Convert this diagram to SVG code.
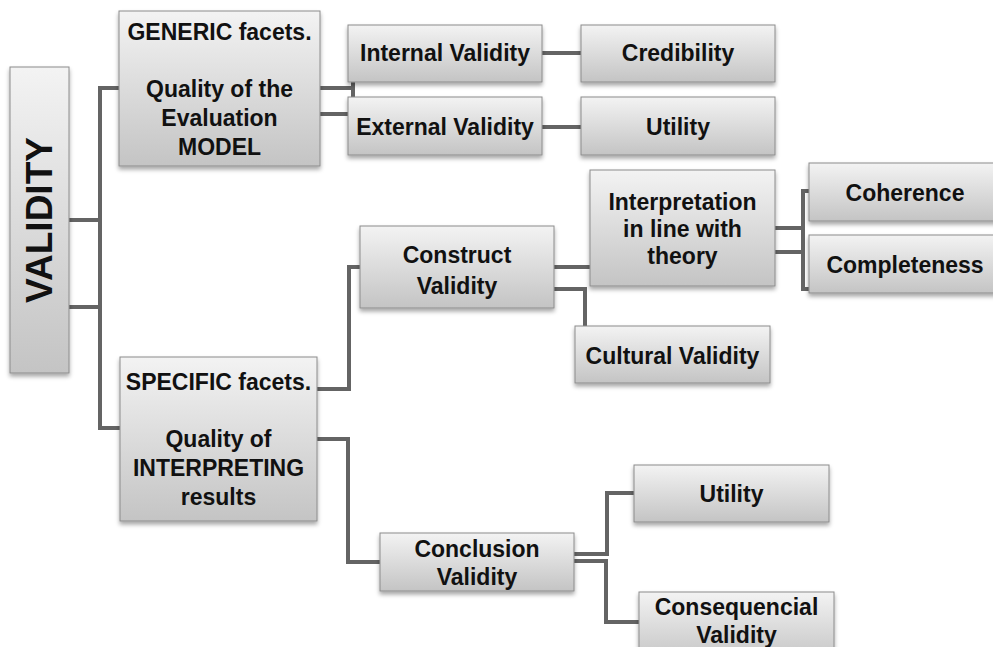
<svg xmlns="http://www.w3.org/2000/svg" width="993" height="647" viewBox="0 0 993 647">
<defs>
<linearGradient id="g" x1="0" y1="0" x2="0" y2="1">
<stop offset="0" stop-color="#f3f3f3"/>
<stop offset="1" stop-color="#c4c4c4"/>
</linearGradient>
<linearGradient id="gh" x1="0" y1="0" x2="1" y2="0">
<stop offset="0" stop-color="#c8c8c8"/>
<stop offset="1" stop-color="#ececec"/>
</linearGradient>
<filter id="sh" x="-10%" y="-10%" width="130%" height="140%">
<feDropShadow dx="0" dy="3" stdDeviation="2" flood-color="#000" flood-opacity="0.35"/>
</filter>
</defs>
<style>
.box{fill:url(#g);stroke:#8c8c8c;stroke-width:1;filter:url(#sh)}
.t{font-family:"Liberation Sans",Arial,sans-serif;font-weight:bold;font-size:23px;fill:#111;text-anchor:middle}
.c{fill:none;stroke:#646464;stroke-width:4}
</style>
<rect width="993" height="647" fill="#fff"/>
<g id="connectors">
<path class="c" d="M69,220H100M69,307H100M100,86V430M100,88H119M100,428H120"/>
<path class="c" d="M320,88H354M353,82V97"/>
<path class="c" d="M320,114H348"/>
<path class="c" d="M542,53H581"/>
<path class="c" d="M542,127H581"/>
<path class="c" d="M317,389H349V267H360"/>
<path class="c" d="M317,439H348V562H380"/>
<path class="c" d="M554,267H590"/>
<path class="c" d="M554,289H585V326"/>
<path class="c" d="M775,228H803M775,252H803M809,191H803V289H809"/>
<path class="c" d="M574,554H607V493H634"/>
<path class="c" d="M574,561H606V622H639"/>
</g>
<g id="validity">
<rect class="box" x="10" y="67" width="59" height="306"/>
<text class="t" style="font-size:37px" transform="translate(52,220) rotate(-90)">VALIDITY</text>
</g>
<g id="generic">
<rect class="box" x="119" y="11" width="201" height="155"/>
<text class="t" x="219.5" y="40">GENERIC facets.</text>
<text class="t" x="219.5" y="97">Quality of the</text>
<text class="t" x="219.5" y="126">Evaluation</text>
<text class="t" x="219.5" y="155">MODEL</text>
</g>
<g id="internal">
<rect class="box" x="348" y="25" width="194" height="57"/>
<text class="t" x="445" y="61">Internal Validity</text>
</g>
<g id="external">
<rect class="box" x="348" y="97" width="194" height="58"/>
<text class="t" x="445" y="135">External Validity</text>
</g>
<g id="credibility">
<rect class="box" x="581" y="25" width="194" height="57"/>
<text class="t" x="678" y="61">Credibility</text>
</g>
<g id="utility1">
<rect class="box" x="581" y="97" width="194" height="58"/>
<text class="t" x="678" y="135">Utility</text>
</g>
<g id="specific">
<rect class="box" x="120" y="357" width="197" height="164"/>
<text class="t" x="218.5" y="390">SPECIFIC facets.</text>
<text class="t" x="218.5" y="447">Quality of</text>
<text class="t" x="218.5" y="476">INTERPRETING</text>
<text class="t" x="218.5" y="505">results</text>
</g>
<g id="construct">
<rect class="box" x="360" y="226" width="194" height="82"/>
<text class="t" x="457" y="263">Construct</text>
<text class="t" x="457" y="294">Validity</text>
</g>
<g id="interpretation">
<rect class="box" x="590" y="170" width="185" height="116"/>
<text class="t" x="682.5" y="210">Interpretation</text>
<text class="t" x="682.5" y="237">in line with</text>
<text class="t" x="682.5" y="264">theory</text>
</g>
<g id="cultural">
<rect class="box" x="575" y="326" width="195" height="57"/>
<text class="t" x="672.5" y="364">Cultural Validity</text>
</g>
<g id="coherence">
<rect class="box" x="809" y="163" width="192" height="58"/>
<text class="t" x="905" y="201">Coherence</text>
</g>
<g id="completeness">
<rect class="box" x="809" y="235" width="192" height="58"/>
<text class="t" x="905" y="273">Completeness</text>
</g>
<g id="conclusion">
<rect class="box" x="380" y="533" width="194" height="58"/>
<text class="t" x="477" y="557">Conclusion</text>
<text class="t" x="477" y="585">Validity</text>
</g>
<g id="utility2">
<rect class="box" x="634" y="465" width="195" height="57"/>
<text class="t" x="731.5" y="502">Utility</text>
</g>
<g id="consequencial">
<rect class="box" x="639" y="592" width="195" height="70"/>
<text class="t" x="736.5" y="615">Consequencial</text>
<text class="t" x="736.5" y="643">Validity</text>
</g>
</svg>
